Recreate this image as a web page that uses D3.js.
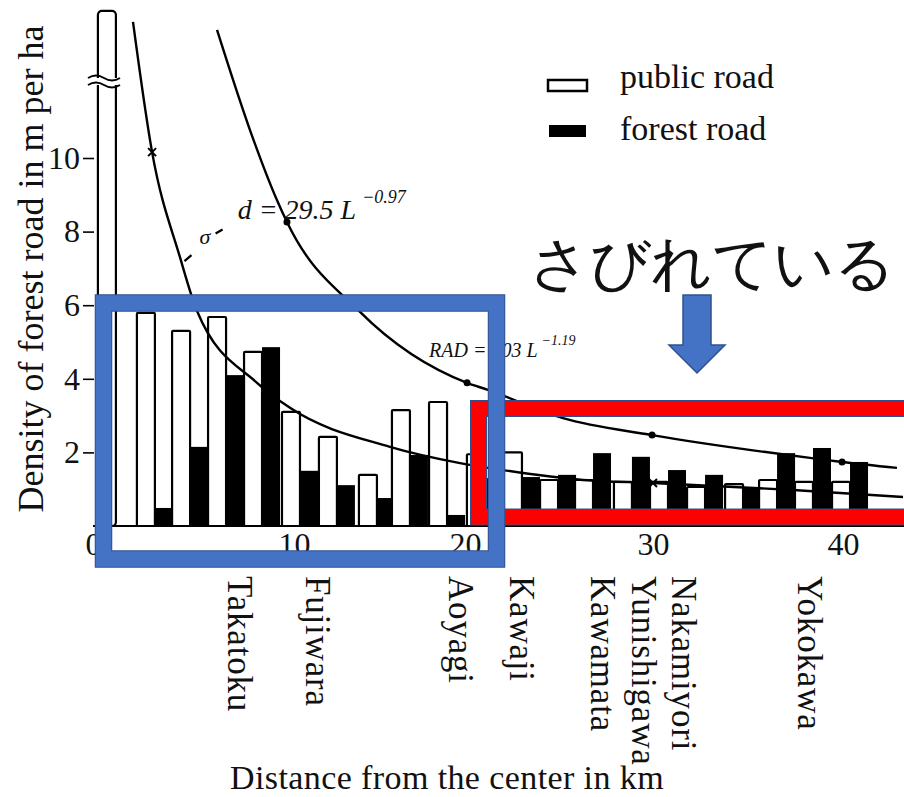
<!DOCTYPE html>
<html>
<head>
<meta charset="utf-8">
<script src="https://cdn.jsdelivr.net/npm/d3@7"></script>
<style>
  body { margin: 0; background: #fff; }
  text { font-family: "Liberation Serif", "DejaVu Serif", serif; fill: #111; }
</style>
</head>
<body>
<div id="chart"></div>
<script>
const W = 904, H = 797;

// bar pairs: km position of the border between the public (white) and forest (black) bar
const pairKm     = [1.14, 3.08, 4.83, 6.62, 8.41, 10.35, 12.51, 14.85, 16.78, 18.95, 21.06,
                    23.03, 24.95, 26.81, 28.88, 30.79, 32.74, 34.74, 36.53, 38.42, 40.37];
const publicRoad = [14, 5.79, 5.3, 5.68, 4.73, 3.1, 2.42, 1.39, 3.15, 3.37, 1.95,
                    2.0, 1.25, 1.25, 1.2, 1.2, 1.06, 1.14, 1.25, 1.2, 1.2];
const forestRoad = [0, 0.49, 2.15, 4.1, 4.86, 1.5, 1.11, 0.76, 1.93, 0.3, 1.3,
                    1.33, 1.39, 1.98, 1.88, 1.52, 1.39, 1.03, 1.98, 2.12, 1.74];

const stations   = ["Takatoku", "Fujiwara", "Aoyagi", "Kawaji", "Kawamata", "Yunishigawa", "Nakamiyori", "Yokokawa"];
const stationKm  = [7.31, 11.4, 19.71, 23.03, 27.34, 29.52, 31.63, 38.26];

const xTicks = [0, 10, 20, 30, 40];
const yTicks = [2, 4, 6, 8, 10];

// fitted curves [km, m/ha]
const curveD = [[1.99, 13.7], [2.94, 10.16], [4.33, 7.3], [5.17, 5.85], [8.16, 3.89],
                [9.8, 3.21], [15.61, 2.15], [19.71, 1.71], [22.02, 1.52], [26.28, 1.25], [30, 1.17],
                [37.37, 0.98], [43.16, 0.79]];
const curveRAD = [[6.17, 13.48], [7.81, 10.76], [9.15, 8.86], [9.65, 8.26], [13.86, 5.82], [20.11, 3.89],
                  [21.22, 3.7], [25.21, 2.93], [29.95, 2.47], [38.26, 1.85], [39.95, 1.74], [42.84, 1.58]];
const crossMarks = [[2.94, 10.16], [30, 1.17]];
const dotMarks   = [[9.65, 8.26], [20.11, 3.89], [29.95, 2.47], [39.95, 1.74]];

const svg = d3.select("#chart").append("svg")
    .attr("width", W).attr("height", H);

// the scanned axis is not quite even, so the ticks are pinned where they sit
const x = d3.scaleLinear().domain(xTicks).range([93, 294, 465, 653, 843]);
const y = d3.scaleLinear().domain([0, 10]).range([526, 158]);
const wBar = 18;

// bars
const bars = svg.append("g");
pairKm.forEach((d, i) => {
    if (forestRoad[i] > 0) {
        bars.append("rect")
            .attr("x", x(d)).attr("y", y(forestRoad[i]))
            .attr("width", wBar).attr("height", y(0) - y(forestRoad[i]))
            .attr("fill", "#000");
    }
    bars.append("rect")
        .attr("x", x(d) - wBar).attr("y", y(publicRoad[i]))
        .attr("width", wBar).attr("height", y(0) - y(publicRoad[i]))
        .attr("rx", i == 0 ? 4 : 1)
        .attr("fill", "#fff").attr("stroke", "#000").attr("stroke-width", 2.2);
});

// break on the tall first bar
const yb = 78;
svg.append("rect").attr("x", 88).attr("y", yb).attr("width", 32).attr("height", 7).attr("fill", "#fff");
[yb, yb + 7].forEach(v => {
    svg.append("path")
        .attr("d", `M88,${v} q8,-5 16,0 t16,0`)
        .attr("fill", "none").attr("stroke", "#000").attr("stroke-width", 2);
});

// baseline and y axis
svg.append("line").attr("x1", x(0)).attr("x2", W).attr("y1", y(0)).attr("y2", y(0))
    .attr("stroke", "#000").attr("stroke-width", 2.2);

const yAxis = svg.append("g").attr("transform", `translate(${x(0) + 1},0)`)
    .call(d3.axisLeft(y).tickValues(yTicks).tickSize(11).tickPadding(3));
yAxis.select(".domain").remove();
yAxis.selectAll("line").attr("stroke", "#000").attr("stroke-width", 1.6);
yAxis.selectAll("text").attr("font-size", 32).attr("font-family", "Liberation Serif").attr("fill", "#111");

const xAxis = svg.append("g").attr("transform", `translate(0,${y(0)})`)
    .call(d3.axisBottom(x).tickValues(xTicks).tickSize(0).tickPadding(6));
xAxis.select(".domain").remove();
xAxis.selectAll("text").attr("font-size", 32).attr("font-family", "Liberation Serif").attr("fill", "#111");

// curves
const line = d3.line().x(d => x(d[0])).y(d => y(d[1])).curve(d3.curveMonotoneX);
[curveD, curveRAD].forEach(c => {
    svg.append("path").attr("d", line(c))
        .attr("fill", "none").attr("stroke", "#000").attr("stroke-width", 2.4);
});
svg.selectAll(".dot").data(dotMarks).join("circle")
    .attr("cx", d => x(d[0])).attr("cy", d => y(d[1])).attr("r", 3.5).attr("fill", "#000");
svg.selectAll(".cross").data(crossMarks).join("path")
    .attr("d", d => `M${x(d[0]) - 4},${y(d[1]) - 4}l8,8M${x(d[0]) + 4},${y(d[1]) - 4}l-8,8`)
    .attr("stroke", "#000").attr("stroke-width", 2);

// curve annotations
const eq1 = svg.append("text").attr("x", x(7.2)).attr("y", y(8.35))
    .attr("font-style", "italic").attr("font-size", 28);
eq1.append("tspan").text("d = 29.5 L");
eq1.append("tspan").attr("dy", -16).attr("dx", 6).attr("font-size", 18).text("−0.97");
svg.append("text").attr("x", x(5.3)).attr("y", y(7.65)).attr("font-style", "italic")
    .attr("font-size", 22).text("σ");
svg.append("path").attr("d", `M${x(4.55)},${y(7.2)}l7,-6M${x(6.1)},${y(7.95)}l7,-4`)
    .attr("stroke", "#000").attr("stroke-width", 2.2);

const eq2 = svg.append("text").attr("x", x(17.9)).attr("y", y(4.6))
    .attr("font-family", "Liberation Sans").attr("font-style", "italic").attr("font-size", 20);
eq2.append("tspan").text("RAD = 103 L");
eq2.append("tspan").attr("dy", -12).attr("dx", 4).attr("font-size", 14).text("−1.19");

// station names
svg.selectAll(".station").data(stations).join("text")
    .attr("transform", (d, i) => `translate(${x(stationKm[i])},576) rotate(90)`)
    .attr("dominant-baseline", "central")
    .attr("font-size", 35).attr("letter-spacing", 0.8)
    .text(d => d);

// axis titles
svg.append("text").attr("transform", "translate(43,269) rotate(-90)")
    .attr("text-anchor", "middle").attr("font-size", 36).text("Density of forest road in m per ha");
svg.append("text").attr("x", 447).attr("y", 789)
    .attr("text-anchor", "middle").attr("font-size", 34).attr("letter-spacing", 0.4)
    .text("Distance from the center in km");

// legend
const legend = svg.append("g");
legend.append("rect").attr("x", 548).attr("y", 80).attr("width", 39).attr("height", 11)
    .attr("fill", "#fff").attr("stroke", "#000").attr("stroke-width", 2.5);
legend.append("rect").attr("x", 549).attr("y", 125).attr("width", 37).attr("height", 12).attr("fill", "#000");
legend.append("text").attr("x", 620).attr("y", 88).attr("font-size", 34).text("public road");
legend.append("text").attr("x", 620).attr("y", 140).attr("font-size", 34).text("forest road");

// overlay shapes
svg.append("rect").attr("x", 478.5).attr("y", 408.5).attr("width", 460).attr("height", 108.5)
    .attr("fill", "none").attr("stroke", "#2F528F").attr("stroke-width", 17);
svg.append("rect").attr("x", 478.5).attr("y", 408.5).attr("width", 460).attr("height", 108.5)
    .attr("fill", "none").attr("stroke", "#FF0000").attr("stroke-width", 15);

svg.append("rect").attr("x", 103.5).attr("y", 303).attr("width", 393).attr("height", 256)
    .attr("fill", "none").attr("stroke", "#2F528F").attr("stroke-width", 17.5);
svg.append("rect").attr("x", 103.5).attr("y", 303).attr("width", 393).attr("height", 256)
    .attr("fill", "none").attr("stroke", "#4472C4").attr("stroke-width", 15.5);

svg.append("path")
    .attr("d", "M683,295 H711 V345 H725 L697,373 L669,345 H683 Z")
    .attr("fill", "#4472C4").attr("stroke", "#2F528F").attr("stroke-width", 1.5);

svg.append("text").attr("x", 529).attr("y", 284)
    .attr("font-family", "Noto Sans CJK JP").attr("font-size", 60).attr("fill", "#000")
    .text("さびれている");
</script>
</body>
</html>
